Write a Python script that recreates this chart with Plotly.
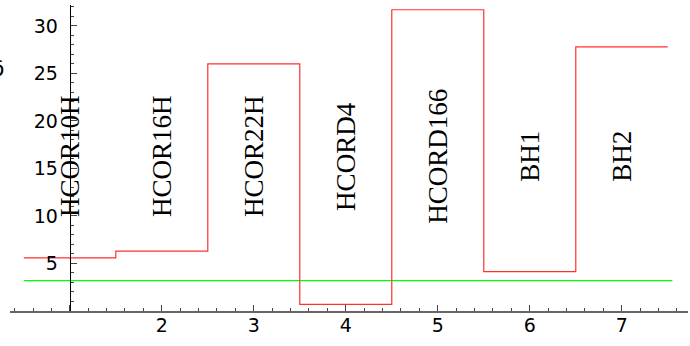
import plotly.graph_objects as go

categories = ["HCOR10H", "HCOR16H", "HCOR22H", "HCORD4", "HCORD166", "BH1", "BH2"]
values = [5.6, 6.3, 26.0, 0.7, 31.7, 4.15, 27.8]
threshold = 3.2
label_y = 16.3
x_ticks = [1, 2, 3, 4, 5, 6, 7]
x_ticktext = ["", "2", "3", "4", "5", "6", "7"]
y_ticks = [5, 10, 15, 20, 25, 30]

xr = [0.35, 7.72]
yr = [0, 32.2]

n = len(categories)
step_x = [i + 0.5 for i in range(0, n + 1)]
step_y = values + [values[-1]]

fig = go.Figure()
fig.add_trace(go.Scatter(x=[step_x[0], step_x[-1] + 0.05], y=[threshold, threshold], mode="lines",
                         line=dict(color="#00ff00", width=1.2), hoverinfo="skip"))
fig.add_trace(go.Scatter(x=step_x, y=step_y, mode="lines", line_shape="hv",
                         line=dict(color="#ff3030", width=1.2), hoverinfo="skip"))

for i, c in enumerate(categories):
    fig.add_annotation(x=i + 1, y=label_y, text=c, textangle=-90, showarrow=False,
                       font=dict(family="Liberation Serif", size=27, color="black"),
                       xanchor="center", yanchor="middle")

fig.add_annotation(xref="paper", yref="paper", x=0, y=0.84, text="δ", showarrow=False,
                   xanchor="right", xshift=-4,
                   font=dict(family="DejaVu Sans", size=22, color="black"))

ypos = (1 - xr[0]) / (xr[1] - xr[0])

fig.update_layout(
    width=690, height=346,
    margin=dict(l=10, r=2, t=5, b=35),
    paper_bgcolor="white", plot_bgcolor="white",
    showlegend=False,
    xaxis=dict(range=xr, showgrid=False, zeroline=False, showline=True, automargin=False,
               linecolor="#666666", linewidth=1.5,
               tickvals=x_ticks, ticktext=x_ticktext, ticks="inside", ticklen=6,
               tickcolor="#444444", tickwidth=1, ticklabelstandoff=-4,
               tickfont=dict(family="DejaVu Sans", size=19, color="black"),
               minor=dict(dtick=0.2, tick0=0, ticks="inside", ticklen=3, tickcolor="#444444")),
    yaxis=dict(range=yr, showgrid=False, zeroline=False, showline=True, automargin=False,
               linecolor="black", linewidth=1.2, anchor="free", position=ypos,
               tickvals=y_ticks, ticks="inside", ticklen=6, tickcolor="#444444",
               ticklabelstandoff=8,
               tickfont=dict(family="DejaVu Sans", size=19, color="black"),
               minor=dict(dtick=1, tick0=0, ticks="inside", ticklen=3, tickcolor="#444444")),
)

fig.write_html("out.html", config={"displayModeBar": False},
               post_script="document.body.style.margin='0';")
